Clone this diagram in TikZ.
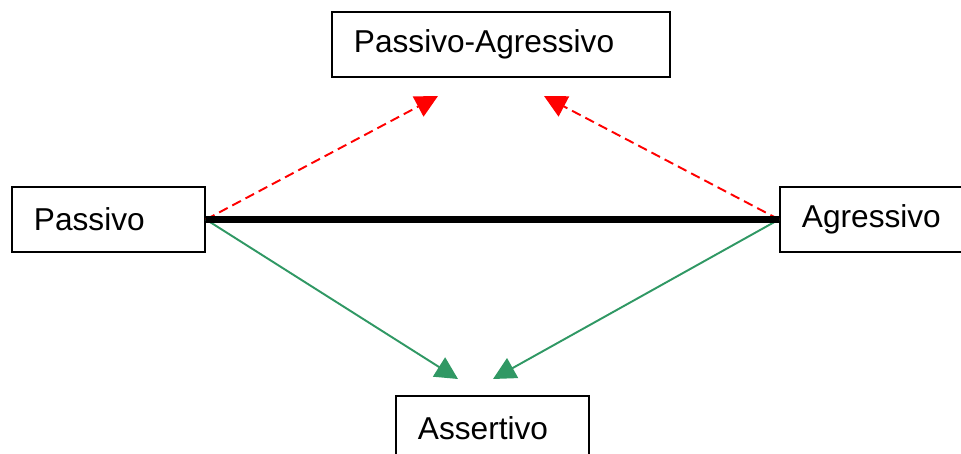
\documentclass[tikz,border=0pt]{standalone}
\usepackage{fontspec}
\setmainfont{Liberation Sans}
\usetikzlibrary{arrows.meta, positioning}
\definecolor{linkred}{RGB}{255, 0, 0}
\definecolor{assertgreen}{RGB}{48, 152, 100}
\tikzset{
  stylebox/.style={draw=black, line width=1.1pt, minimum height=1.3cm, inner xsep=0.44cm, align=left, anchor=north west, font=\fontsize{18}{22}\selectfont},
  redlink/.style={draw=linkred, line width=1.1pt, dash pattern=on 5.5pt off 3pt, -{Triangle[length=0.45cm, width=0.45cm]}},
  greenlink/.style={draw=assertgreen, line width=1.1pt, -{Triangle[length=0.45cm, width=0.45cm]}}
}

\begin{document}
\begin{tikzpicture}
  \useasboundingbox (0, 0) rectangle (19.22, -9.06);

  % Boxes
  \node[stylebox, text width=5.88cm] (passagr) at (6.62, -0.22) {Passivo-Agressivo};
  \node[stylebox, text width=2.98cm] (passivo) at (0.22, -3.72) {Passivo};
  \node[stylebox, text width=2.98cm] (agressivo) at (15.58, -3.72) {Agressivo};
  \node[stylebox, text width=2.98cm] (assertivo) at (7.9, -7.9) {Assertivo};

  % Arrow tips
  \coordinate (redleft) at (8.76, -1.92);
  \coordinate (redright) at (10.88, -1.92);
  \coordinate (greenleft) at (9.16, -7.58);
  \coordinate (greenright) at (9.86, -7.58);

  % Connectors
  \draw[redlink] (passivo.east) -- (redleft);
  \draw[redlink] (agressivo.west) -- (redright);
  \draw[greenlink] (passivo.east) -- (greenleft);
  \draw[greenlink] (agressivo.west) -- (greenright);
  \draw[line width=4pt] (passivo.east) -- (agressivo.west);
\end{tikzpicture}
\end{document}
